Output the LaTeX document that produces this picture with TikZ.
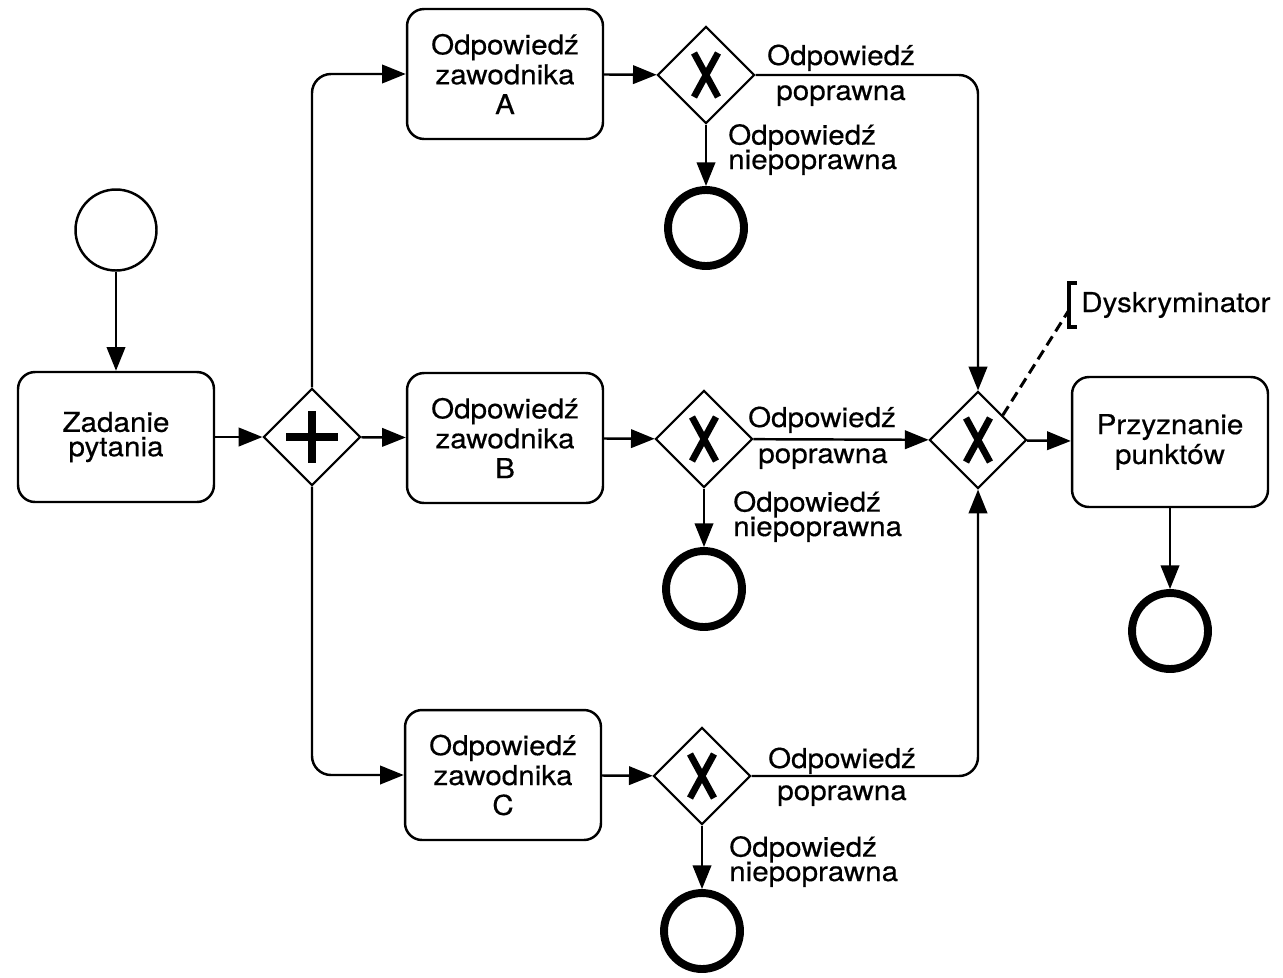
\documentclass[tikz,border=0pt]{standalone}
\usepackage{fontspec}
\setmainfont{TeX Gyre Heros}[FakeStretch=1.08,FakeBold=0.4]
\usetikzlibrary{arrows.meta,shapes.geometric}
\newcommand\tightls{\lineskiplimit=-20pt\relax}
\begin{document}
\begin{tikzpicture}[x=0.02cm,y=-0.02cm,
  line width=1.4pt,
  every node/.style={font=\fontsize{15.6pt}{13.9pt}\selectfont\tightls, inner sep=0pt},
  task/.style={draw, rounded corners=0.34cm, minimum width=3.92cm, minimum height=2.6cm, align=center},
  task3/.style={task, font=\fontsize{15.6pt}{17pt}\selectfont\tightls},
  gw/.style={draw, diamond, aspect=1, minimum size=1.94cm, line width=1.2pt},
  startev/.style={draw, circle, minimum size=1.62cm},
  endev/.style={draw, circle, minimum size=1.52cm, line width=4.5pt},
  flow/.style={-{Triangle[length=13.5pt,width=10.5pt]}, rounded corners=0.38cm},
  lbl/.style={anchor=base},
  lblw/.style={anchor=base west, align=left},
  xmarkline/.style={line width=3.8pt},
  plusline/.style={line width=4pt},
  annot/.style={dashed, dash pattern=on 6pt off 3.4pt, line width=1.7pt},
  bracket/.style={line width=1.9pt},
]
\useasboundingbox (0,0) rectangle (1283,977);

% nodes
\node[startev] (s) at (116,230) {};
\node[task] (z) at (116,437) {Zadanie\\pytania};
\node[gw] (p) at (312,437) {};
\node[task3] (ta) at (505,74) {Odpowiedź\\zawodnika\\A};
\node[task3] (tb) at (505,438) {Odpowiedź\\zawodnika\\B};
\node[task3] (tc) at (503,775) {Odpowiedź\\zawodnika\\C};
\node[gw] (ga) at (706,75) {};
\node[gw] (gb) at (704,439) {};
\node[gw] (gc) at (702,776) {};
\node[endev] (ea) at (706,228) {};
\node[endev] (eb) at (704,589) {};
\node[endev] (ec) at (702,931) {};
\node[gw] (m) at (978,440) {};
\node[task3] (pp) at (1170,442) {Przyznanie\\punktów};
\node[endev] (ep) at (1170,631) {};

% gateway markers
\draw[plusline] ([shift={(-26,0)}]p.center) -- ([shift={(26,0)}]p.center);
\draw[plusline] ([shift={(0,-26)}]p.center) -- ([shift={(0,26)}]p.center);
\foreach \g in {ga,gb,gc,m}{
  \draw[xmarkline] ([shift={(-12,-22)}]\g.center) -- ([shift={(12,22)}]\g.center);
  \draw[xmarkline] ([shift={(12,-22)}]\g.center) -- ([shift={(-12,22)}]\g.center);
}

% flows
\draw[flow] (s) -- (z);
\draw[flow] (z) -- (p);
\draw[flow] (p) -- (tb);
\draw[flow] (p.north) |- (ta.west);
\draw[flow] (p.south) |- (tc.west);
\draw[flow] (ta) -- (ga);
\draw[flow] (tb) -- (gb);
\draw[flow] (tc) -- (gc);
\draw[flow] (ga) -- (ea);
\draw[flow] (gb) -- (eb);
\draw[flow] (gc) -- (ec);
\draw[flow] (ga) -| (m);
\draw[flow] (gb) -- (m);
\draw[flow] (gc) -| (m);
\draw[flow] (m) -- (pp);
\draw[flow] (pp) -- (ep);

% labels
\node[lbl] (la1) at (841,65) {Odpowiedź};
\node[lbl] (la2) at (841,100) {poprawna};
\node[lblw] (na) at (727,169) {Odpowiedź\\niepoprawna};
\node[lbl] (lb1) at (822,427) {Odpowiedź};
\node[lbl] (lb2) at (823,463) {poprawna};
\node[lblw] (nb) at (732,536) {Odpowiedź\\niepoprawna};
\node[lbl] (lc1) at (842,768) {Odpowiedź};
\node[lbl] (lc2) at (842,800) {poprawna};
\node[lblw] (nc) at (728,881) {Odpowiedź\\niepoprawna};

% annotation
\coordinate (br) at (1069,310);
\draw[annot] (m.north east) -- (br);
\draw[bracket] (1077,283) -| (1069,327) -- (1077,327);
\node[anchor=base west] (dys) at (1080,312) {Dyskryminator};
\end{tikzpicture}
\end{document}
